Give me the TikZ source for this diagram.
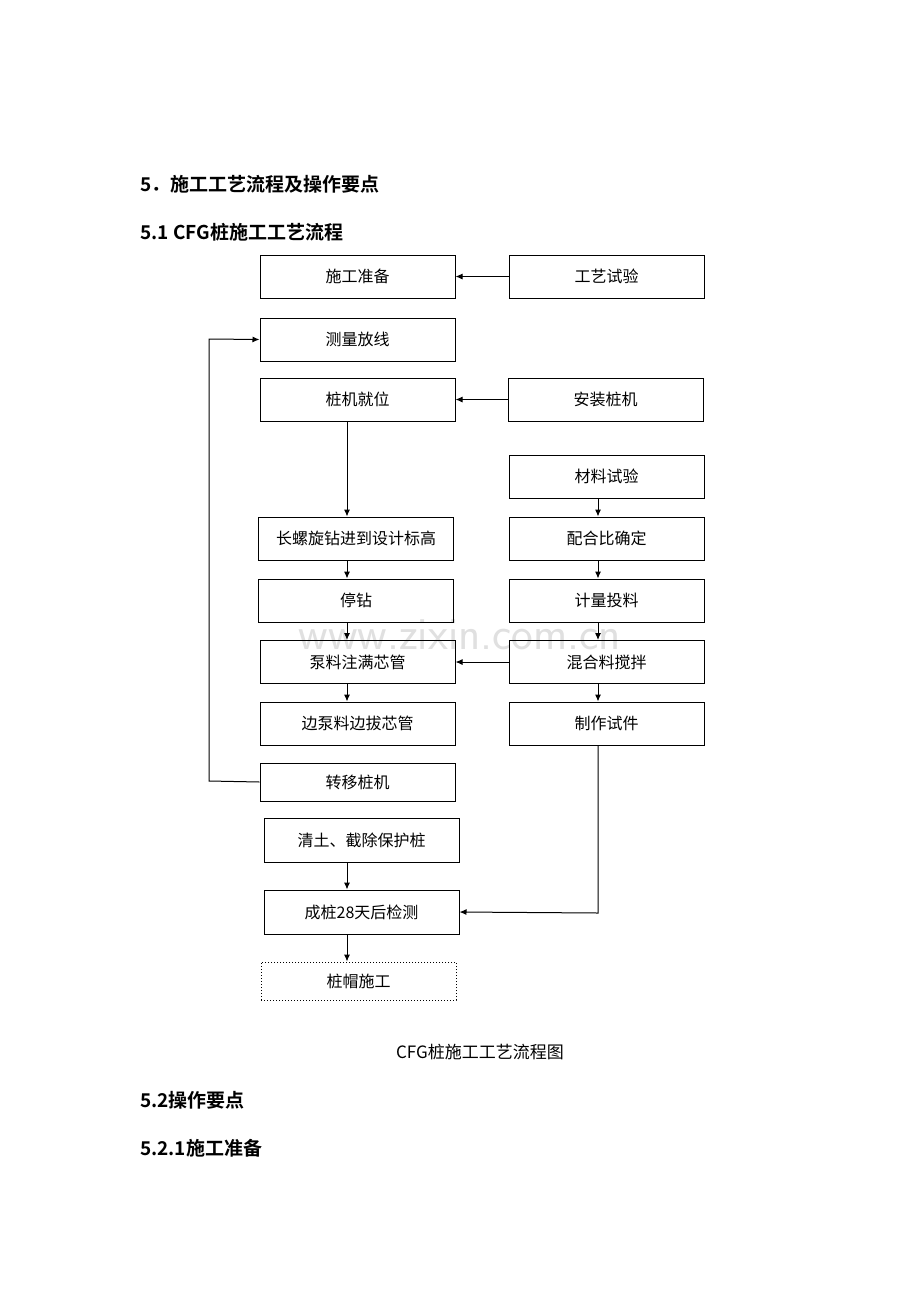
\documentclass[tikz,border=0pt]{standalone}
\usepackage{fontspec}
\newfontfamily\cjk{Noto Sans CJK SC}
\newfontfamily\cjkb{Noto Sans CJK SC Bold}
\usetikzlibrary{arrows.meta}
\begin{document}
\begin{tikzpicture}[x=1pt,y=-1pt,
 box/.style={draw,line width=1pt,minimum width=195pt,minimum height=43pt,inner sep=0pt,font=\cjk\fontsize{16}{16}\selectfont},
 ar/.style={-{Latex[length=7pt,width=6pt]},line width=1pt},
 hd/.style={anchor=west,font=\cjkb\fontsize{19}{19}\selectfont,inner sep=0pt}]
\useasboundingbox (0,0) rectangle (920,1302);
\fill[white] (0,0) rectangle (920,1302);
\node[font=\fontsize{46}{46}\selectfont\sffamily,text=black!12] (wm) at (460,635) {www.zixin.com.cn};
\node[hd] (h1) at (140,184) {5．施工工艺流程及操作要点};
\node[hd] (h2) at (140,232) {5.1 CFG桩施工工艺流程};
\node[box] (a1) at (357.5,276.5) {施工准备};
\node[box] (a2) at (357.5,339.5) {测量放线};
\node[box] (a3) at (357.5,399.5) {桩机就位};
\node[box] (a4) at (356,538.5) {长螺旋钻进到设计标高};
\node[box] (a5) at (356,600.5) {停钻};
\node[box] (a6) at (357.5,662) {泵料注满芯管};
\node[box] (a7) at (357.5,723.5) {边泵料边拔芯管};
\node[box,minimum height=38pt] (a8) at (357.5,782) {转移桩机};
\node[box,minimum height=44pt] (a9) at (361.5,840) {清土、截除保护桩};
\node[box,minimum height=44pt] (a10) at (361.5,912) {成桩28天后检测};
\node[box,dotted,minimum height=38pt] (a11) at (358.5,981) {桩帽施工};
\node[box] (b1) at (606.5,276.5) {工艺试验};
\node[box] (b2) at (605.5,399.5) {安装桩机};
\node[box] (b3) at (606.5,476.5) {材料试验};
\node[box] (b4) at (606.5,538.5) {配合比确定};
\node[box] (b5) at (606.5,600.5) {计量投料};
\node[box] (b6) at (606.5,662) {混合料搅拌};
\node[box] (b7) at (606.5,723.5) {制作试件};
\draw[ar] (b1) -- (a1);
\draw[ar] (b2) -- (a3);
\draw[ar] (b6) -- (a6);
\draw[ar] (a3.south -| 347,0) -- (a4.north -| 347,0);
\draw[ar] (a4.south -| 347,0) -- (a5.north -| 347,0);
\draw[ar] (a5.south -| 347,0) -- (a6.north -| 347,0);
\draw[ar] (a6.south -| 347,0) -- (a7.north -| 347,0);
\draw[ar] (a9.south -| 347,0) -- (a10.north -| 347,0);
\draw[ar] (a10.south -| 347,0) -- (a11.north -| 347,0);
\draw[ar] (b3.south -| 598,0) -- (b4.north -| 598,0);
\draw[ar] (b4.south -| 598,0) -- (b5.north -| 598,0);
\draw[ar] (b5.south -| 598,0) -- (b6.north -| 598,0);
\draw[ar] (b6.south -| 598,0) -- (b7.north -| 598,0);
\coordinate (l1) at (209,781);
\coordinate (l2) at (209,339);
\draw[ar] (a8.west) -- (l1) -- (l2) -- (a2.west);
\coordinate (r1) at (598,913);
\draw[ar] (b7.south -| 598,0) -- (r1) -- (a10.east);
\node[font=\cjk\fontsize{17}{17}\selectfont] (cap) at (480,1052) {CFG桩施工工艺流程图};
\node[hd] (h3) at (140,1100) {5.2操作要点};
\node[hd] (h4) at (140,1148) {5.2.1施工准备};
\end{tikzpicture}
\end{document}
